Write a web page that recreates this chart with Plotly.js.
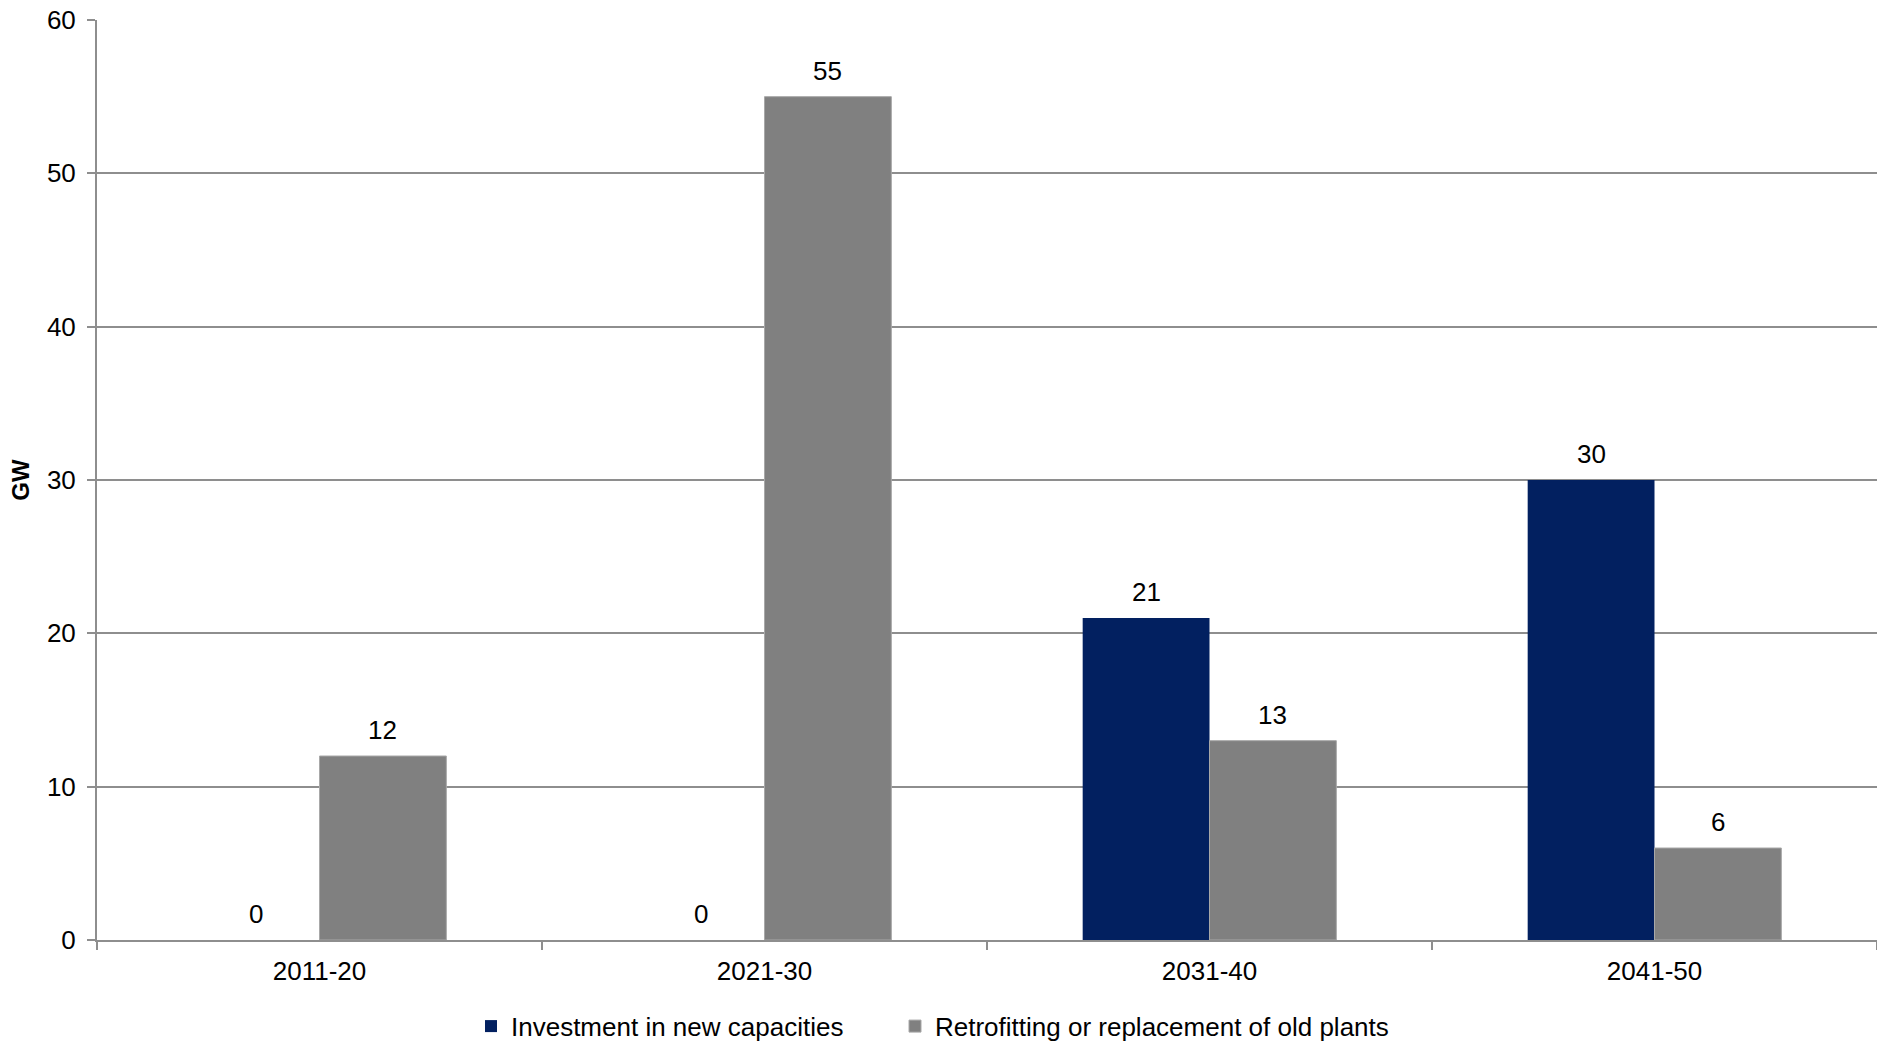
<!DOCTYPE html>
<html>
<head>
<meta charset="utf-8">
<script src="https://cdn.plot.ly/plotly-3.0.1.min.js"></script>
<style>html,body{margin:0;padding:0;background:#fff;}#chart{width:1877px;height:1045px;}</style>
</head>
<body>
<div id="chart"></div>
<script>
var categories = ["2011-20", "2021-30", "2031-40", "2041-50"];
var newCapacities = [0, 0, 21, 30];
var retrofitting = [12, 55, 13, 6];
var seriesNames = ["Investment in new capacities", "Retrofitting or replacement of old plants"];
var yTicks = [0, 10, 20, 30, 40, 50, 60];

var FONT = "Liberation Sans, Arial, sans-serif";
var FS = 26;
var bargap = 0.43;
var half = (1 - bargap) / 4;

var traces = [
  {type: "bar", name: seriesNames[0], x: categories, y: newCapacities, legend: "legend",
   marker: {color: "#022060", line: {width: 0}}, hoverinfo: "none"},
  {type: "bar", name: seriesNames[1], x: categories, y: retrofitting, legend: "legend2",
   marker: {color: "#808080", line: {width: 1, color: "#a8a8a8"}}, hoverinfo: "none"}
];

var annotations = [];
[newCapacities, retrofitting].forEach(function (vals, s) {
  vals.forEach(function (v, i) {
    annotations.push({
      x: i + (s === 0 ? -half : half), y: v, xref: "x", yref: "y",
      text: String(v), showarrow: false, yanchor: "middle", yshift: 26,
      font: {family: FONT, size: FS, color: "#000"}
    });
  });
});

function legendAt(xpx) {
  return {orientation: "h", xref: "container", yref: "container", x: xpx / 1877, y: 0.018,
          xanchor: "left", yanchor: "middle", font: {family: FONT, size: FS, color: "#000"},
          itemwidth: 30, bgcolor: "rgba(0,0,0,0)"};
}

var layout = {
  width: 1877, height: 1045,
  margin: {l: 97, r: 0, t: 20, b: 105},
  paper_bgcolor: "#fff", plot_bgcolor: "#fff",
  font: {family: FONT, size: FS, color: "#000"},
  barmode: "group", bargap: bargap, bargroupgap: 0,
  showlegend: true,
  legend: legendAt(471),
  legend2: legendAt(895),
  xaxis: {type: "category", range: [-0.5, 3.5], tickson: "boundaries", ticks: "outside", ticklen: 8,
          tickwidth: 2, tickcolor: "#8e8e8e", showline: true, linecolor: "#8e8e8e", linewidth: 2,
          showgrid: false, zeroline: false, ticklabelstandoff: 7,
          tickfont: {family: FONT, size: FS, color: "#000"}},
  yaxis: {range: [0, 60], tickvals: yTicks, ticktext: yTicks.map(String), ticks: "outside", ticklen: 8,
          tickwidth: 2, tickcolor: "#8e8e8e", showline: true, linecolor: "#8e8e8e", linewidth: 2,
          showgrid: true, gridcolor: "#8e8e8e", gridwidth: 2, zeroline: false, ticklabelstandoff: 6,
          tickfont: {family: FONT, size: FS, color: "#000"},
          title: {text: "<b>GW</b>", font: {family: FONT, size: 24, color: "#000"}, standoff: 10}},
  annotations: annotations
};

Plotly.newPlot("chart", traces, layout, {displayModeBar: false, staticPlot: true});
</script>
</body>
</html>
